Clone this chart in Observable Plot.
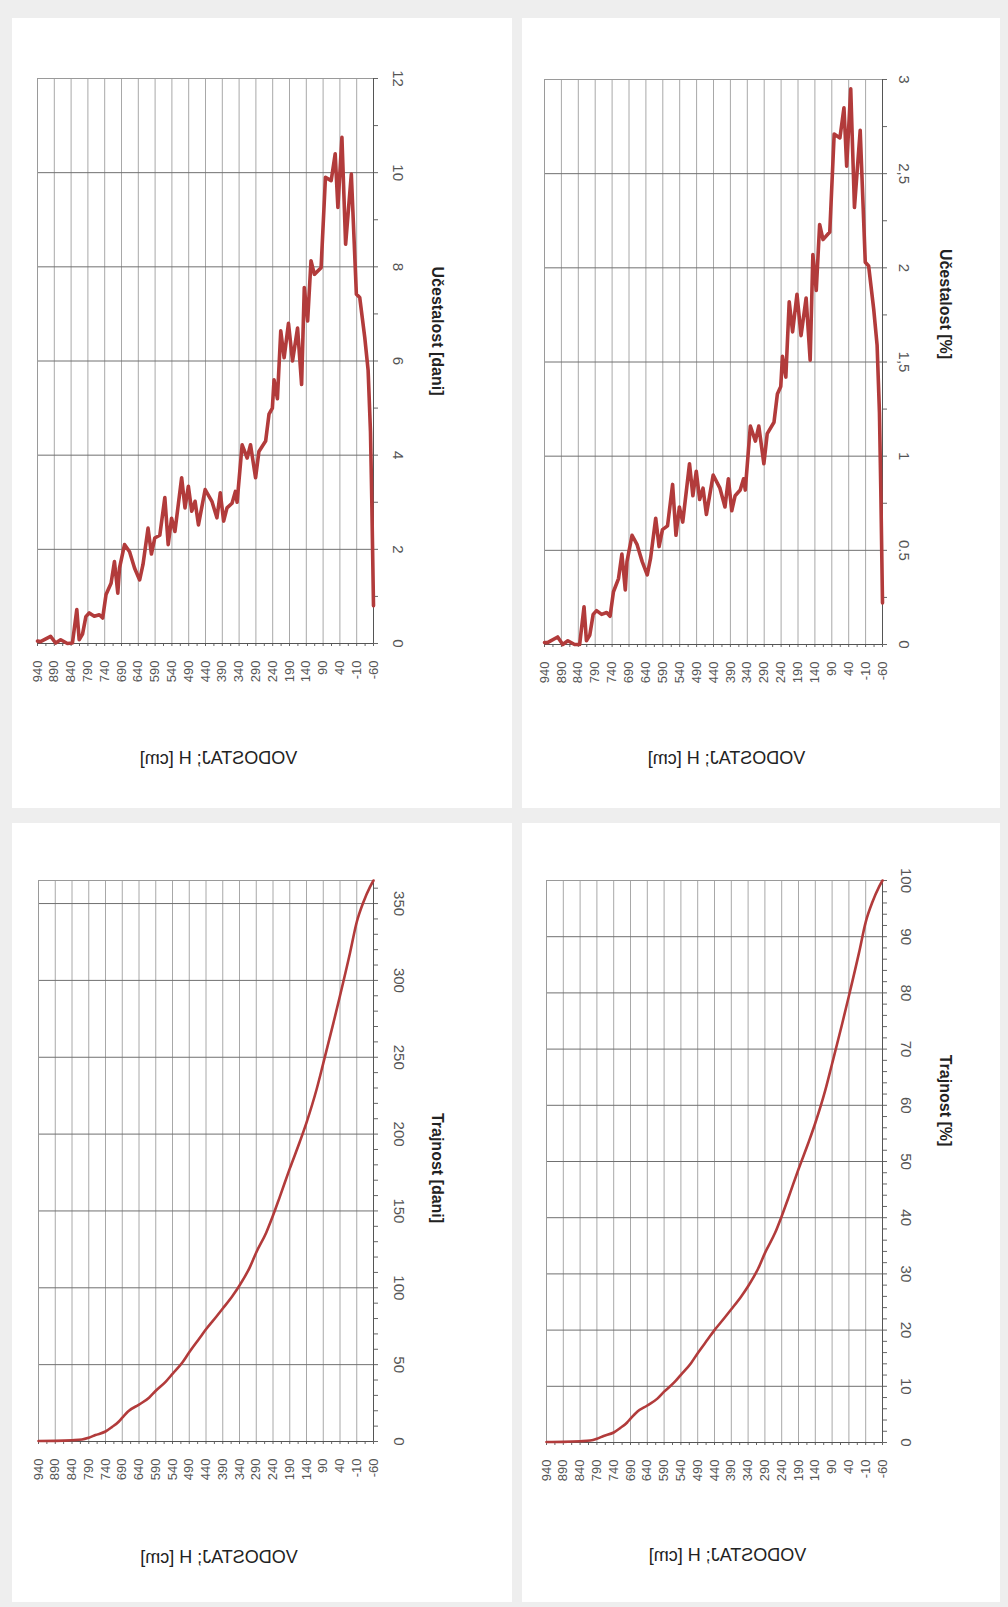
<!DOCTYPE html>
<html><head><meta charset="utf-8">
<script src="https://cdn.jsdelivr.net/npm/d3@7"></script>
<script src="https://cdn.jsdelivr.net/npm/@observablehq/plot@0.6"></script>
<style>
html,body{margin:0;padding:0;background:#eeeeee;}
#root{position:relative;width:1008px;height:1607px;background:#eeeeee;overflow:hidden;}
.panel{position:absolute;background:#fff;}
.panel svg{display:block;}
</style></head><body><div id="root"></div>
<script>
// ---- data ----
const stageTicks = [940,890,840,790,740,690,640,590,540,490,440,390,340,290,240,190,140,90,40,-10,-60];
const stageMinor = [940,915,890,865,840,815,790,765,740,715,690,665,640,615,590,565,540,515,490,465,440,415,390,365,340,315,290,265,240,215,190,165,140,115,90,65,40,15,-10,-35,-60];
const stageTitle = "VODOSTAJ; H [cm]";

// Učestalost (frequency)
const freqH = [940,931,901,886,871,851,836,823,816,806,796,786,771,756,746,736,721,711,701,696,681,666,651,636,626,611,601,591,576,561,551,541,531,511,501,491,481,471,461,441,421,406,396,386,376,361,351,346,331,316,306,291,281,261,251,241,236,226,216,206,193,181,166,154,146,136,126,116,96,83,66,54,46,34,23,6,-9,-19,-34,-44,-51,-55,-60];
const freqDays = [0.05,0.04,0.15,0.01,0.08,0,0.01,0.72,0.08,0.2,0.57,0.65,0.58,0.61,0.54,1.04,1.28,1.74,1.07,1.6,2.1,1.95,1.6,1.35,1.68,2.45,1.9,2.24,2.3,3.1,2.1,2.66,2.38,3.52,2.88,3.34,2.81,3.02,2.52,3.27,3.02,2.67,3.2,2.6,2.88,2.98,3.23,3.0,4.22,3.94,4.22,3.52,4.08,4.3,4.87,5.0,5.6,5.2,6.64,6.07,6.8,6.0,6.7,5.5,7.56,6.85,8.13,7.84,7.98,9.9,9.83,10.4,9.26,10.75,8.48,9.97,7.42,7.35,6.5,5.8,4.5,3.0,0.8];
const freqPct = [0.01,0.01,0.04,0,0.02,0,0,0.2,0.02,0.05,0.16,0.18,0.16,0.17,0.15,0.28,0.35,0.48,0.29,0.44,0.58,0.53,0.44,0.37,0.46,0.67,0.52,0.61,0.63,0.85,0.58,0.73,0.65,0.96,0.79,0.92,0.77,0.83,0.69,0.9,0.83,0.73,0.88,0.71,0.79,0.82,0.88,0.82,1.16,1.08,1.16,0.96,1.12,1.18,1.33,1.37,1.53,1.42,1.82,1.66,1.86,1.64,1.84,1.51,2.07,1.88,2.23,2.15,2.19,2.71,2.69,2.85,2.54,2.95,2.32,2.73,2.03,2.01,1.78,1.59,1.23,0.82,0.22];

// Trajnost (duration)
const durH = [940,890,840,810,790,770,740,720,700,690,670,640,610,590,560,540,510,490,460,440,410,390,360,340,310,290,260,240,220,190,160,140,110,90,60,40,10,-10,-30,-50,-60];
const durDays = [0.3,0.4,0.8,1.3,2.5,4.2,6.5,9.5,13,15.5,20,24,28.5,33,39,44,51.5,58,67,73,81,86.5,95,101.5,113,123,136,147,159,177.5,195,207.5,229,246,272,290,318,338,351,361,365];
const durPct = [0.08,0.11,0.22,0.36,0.68,1.15,1.78,2.6,3.56,4.25,5.48,6.58,7.81,9.04,10.68,12.05,14.11,15.89,18.36,20,22.19,23.7,26.03,27.81,30.96,33.7,37.26,40.27,43.56,48.63,53.42,56.85,62.74,67.4,74.52,79.45,87.12,92.6,96.16,98.9,100];

// value-axis ticks
const freqDaysTicks = [0,2,4,6,8,10,12];
const freqDaysTickLabels = ["0","2","4","6","8","10","12"];
const freqDaysMinor = [0,1,2,3,4,5,6,7,8,9,10,11,12];
const freqPctTicks = [0,0.5,1,1.5,2,2.5,3];
const freqPctTickLabels = ["0","0.5","1","1,5","2","2,5","3"];
const freqPctMinor = [0,0.25,0.5,0.75,1,1.25,1.5,1.75,2,2.25,2.5,2.75,3];
const durDaysTicks = [0,50,100,150,200,250,300,350];
const durDaysTickLabels = ["0","50","100","150","200","250","300","350"];
const durDaysMinor = [0,10,20,30,40,50,60,70,80,90,100,110,120,130,140,150,160,170,180,190,200,210,220,230,240,250,260,270,280,290,300,310,320,330,340,350,360];
const durPctTicks = [0,10,20,30,40,50,60,70,80,90,100];
const durPctTickLabels = ["0","10","20","30","40","50","60","70","80","90","100"];
const durPctMinor = [0,2,4,6,8,10,12,14,16,18,20,22,24,26,28,30,32,34,36,38,40,42,44,46,48,50,52,54,56,58,60,62,64,66,68,70,72,74,76,78,80,82,84,86,88,90,92,94,96,98,100];

const titles = ["Učestalost [dani]", "Učestalost [%]", "Trajnost [dani]", "Trajnost [%]"];

const lineColor = "#b23b3b";
const font = "'Liberation Sans', Arial, Helvetica, sans-serif";

function makePanel(c) {
  const rows = c.H.map((h, i) => ({h, v: c.V[i]}));
  const plot = Plot.plot({
    width: c.width, height: c.height,
    marginLeft: c.m[0], marginRight: c.m[1], marginTop: c.m[2], marginBottom: c.m[3],
    style: {background: "#fff", fontFamily: font, overflow: "visible"},
    x: {domain: [940, -60], axis: null, label: null},
    y: {domain: c.yDomain, axis: null, label: null},
    marks: [
      Plot.gridX(stageTicks, {stroke: "#a8a8a8", strokeOpacity: 1}),
      Plot.gridY(c.yTicks, {stroke: "#707070", strokeOpacity: 1}),
      Plot.frame({stroke: "#9a9a9a"}),
      Plot.axisX(stageMinor, {anchor: "bottom", tickSize: 3, text: null, label: null, stroke: "#666"}),
      Plot.axisY(c.yMinor, {anchor: "right", tickSize: 4, text: null, label: null, stroke: "#666"}),
      Plot.ruleY([c.yDomain[0]], {stroke: "#555"}),
      Plot.ruleX([-60], {stroke: "#555"}),
      Plot.line(rows, {x: "h", y: "v", stroke: lineColor, strokeWidth: c.sw, curve: c.curve, strokeLinejoin: "round"}),
      Plot.text(stageTicks, {x: d => d, frameAnchor: "bottom", dy: 17, rotate: -90, textAnchor: "end", lineAnchor: "middle", text: d => String(d), fontSize: 13, fill: "#555"}),
      Plot.text(c.yTicks, {y: d => d, frameAnchor: "right", dx: c.tickDx, rotate: 90, textAnchor: "middle", lineAnchor: "middle", text: (d, i) => c.yLabels[i], fontSize: 15, fill: "#555"}),
      Plot.text([c.title], {frameAnchor: "right", dx: c.titleDx, dy: c.titleDy, rotate: 90, textAnchor: "middle", lineAnchor: "middle", fontWeight: "bold", fontSize: 16, fill: "#222"}),
      Plot.text([stageTitle], {frameAnchor: "bottom", dx: 13, dy: c.stageDy, textAnchor: "middle", lineAnchor: "middle", fontSize: 18, fill: "#222"})
    ]
  });
  // the stage title is mirrored in the reference
  d3.select(plot).selectAll("text").filter(function () { return this.textContent === stageTitle; })
    .each(function () {
      const t = this.getAttribute("transform") || "";
      this.setAttribute("transform", t + " scale(-1,1)");
    });
  const div = document.createElement("div");
  div.className = "panel";
  div.style.left = c.left + "px";
  div.style.top = c.top + "px";
  div.style.width = c.width + "px";
  div.style.height = c.height + "px";
  div.appendChild(plot);
  document.getElementById("root").appendChild(div);
}

makePanel({left: 12, top: 18, width: 500, height: 790, m: [25, 139, 60, 165],
  H: freqH, V: freqDays, yDomain: [0, 12], yTicks: freqDaysTicks, yLabels: freqDaysTickLabels, yMinor: freqDaysMinor,
  title: titles[0], tickDx: 24, titleDx: 64, titleDy: -30, stageDy: 115, sw: 3.6, curve: "linear"});
makePanel({left: 522, top: 18, width: 478, height: 790, m: [22, 118, 61, 164],
  H: freqH, V: freqPct, yDomain: [0, 3], yTicks: freqPctTicks, yLabels: freqPctTickLabels, yMinor: freqPctMinor,
  title: titles[1], tickDx: 21, titleDx: 63, titleDy: -58, stageDy: 114, sw: 3.6, curve: "linear"});
makePanel({left: 12, top: 823, width: 500, height: 779, m: [26, 139, 57, 161],
  H: durH, V: durDays, yDomain: [0, 365], yTicks: durDaysTicks, yLabels: durDaysTickLabels, yMinor: durDaysMinor,
  title: titles[2], tickDx: 25, titleDx: 64, titleDy: 7, stageDy: 116, sw: 2.6, curve: "monotone-x"});
makePanel({left: 522, top: 823, width: 478, height: 779, m: [24, 118, 57, 160],
  H: durH, V: durPct, yDomain: [0, 100], yTicks: durPctTicks, yLabels: durPctTickLabels, yMinor: durPctMinor,
  title: titles[3], tickDx: 23, titleDx: 63, titleDy: -61, stageDy: 113, sw: 2.6, curve: "monotone-x"});
</script>
</body></html>
